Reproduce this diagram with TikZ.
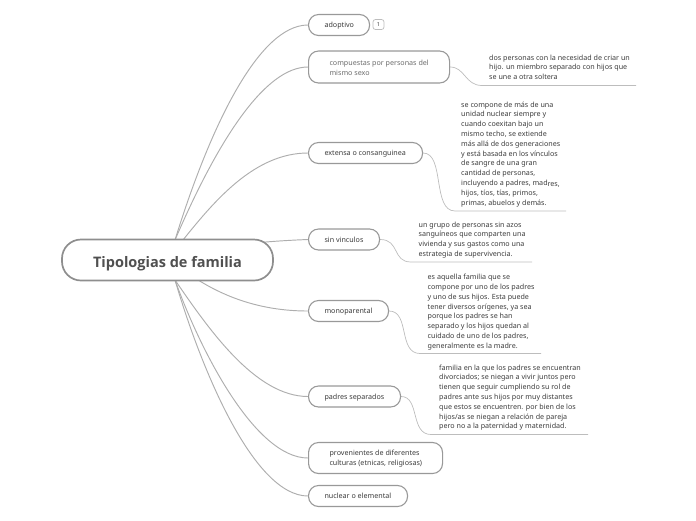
\documentclass[tikz,border=0pt]{standalone}
\usepackage{fontspec}
\setmainfont{Noto Sans}
\newfontfamily\rootfont{Open Sans}
\usetikzlibrary{backgrounds}
\definecolor{bordc}{HTML}{999999}
\definecolor{rootc}{HTML}{8E8E8E}
\definecolor{linkc}{HTML}{BDBDBD}
\definecolor{txtc}{HTML}{3C3C3C}
\newcommand{\tline}[2]{\makebox[#1][l]{\hspace*{16pt}\raisebox{-2.6pt}[0pt][0pt]{#2}}}
\newcommand{\ttwo}[2]{\makebox[#1][l]{\hspace*{21pt}\raisebox{-2.3pt}[0pt][0pt]{\parbox[c]{120pt}{#2}}}}
\tikzset{
 x=1pt,y=-1pt,
 topic/.style n args={2}{draw=bordc,fill=white,line width=1.1pt,rounded corners=10pt,text=txtc,font=\fontsize{7.15}{9.8}\selectfont,minimum width=#1,minimum height=#2,anchor=west,inner sep=0pt},
 rootbox/.style={draw=rootc,fill=white,line width=1.7pt,rounded corners=19pt,minimum width=211pt,minimum height=41pt,text=txtc!90!white,font=\fontsize{14.5}{17}\rootfont\bfseries,inner sep=0pt},
 note/.style={anchor=north west,align=left,inner sep=0pt,text=txtc,font=\fontsize{7.15}{9.8}\selectfont},
 link/.style={draw=linkc!92!black,line width=.95pt},
 thin link/.style={draw=linkc,line width=.7pt},
 badge/.style={draw=linkc,rounded corners=2.5pt,line width=.7pt,minimum width=11pt,minimum height=10pt,inner sep=0pt,text=txtc,font=\fontsize{5.5}{6}\selectfont},
}
\begin{document}
\begin{tikzpicture}
\useasboundingbox (0,0) rectangle (696,520);
\node[rootbox] (root) at (167.5,260) {\raisebox{-7pt}[0pt][0pt]{Tipologias de familia}};
\coordinate (rtop) at (175,240);
\coordinate (rtopb) at (183,240);
\coordinate (rbot) at (175,280);
\node[topic={61pt}{21pt}] (adop) at (308,25) {\tline{61pt}{adoptivo}};
\node[badge] (bad) at (378.5,24.5) {1};
\node[topic={141pt}{32pt},text=txtc!75!white] (comp) at (308,67) {\ttwo{141pt}{compuestas por personas del\\mismo sexo}};
\node[topic={114pt}{21pt}] (ext) at (308,153) {\tline{114pt}{extensa o consanguinea}};
\node[topic={71pt}{21pt}] (sin) at (308,239.5) {\tline{71pt}{sin vinculos}};
\node[topic={80pt}{21pt}] (mono) at (308,311) {\tline{80pt}{monoparental}};
\node[topic={92pt}{21pt}] (pad) at (308,396.5) {\tline{92pt}{padres separados}};
\node[topic={134pt}{31pt}] (prov) at (308,458) {\ttwo{134pt}{provenientes de diferentes\\culturas (etnicas, religiosas)}};
\node[topic={99pt}{21pt}] (nuc) at (308,496) {\tline{99pt}{nuclear o elemental}};
\node[note] (n1) at (489,54.5) {dos personas con la necesidad de criar un\\hijo. un miembro separado con hijos que\\se une a otra soltera};
\node[note] (n2) at (461,101.5) {se compone de más de una\\unidad nuclear siempre y\\cuando coexitan bajo un\\mismo techo, se extiende\\más allá de dos generaciones\\y está basada en los vínculos\\de sangre de una gran\\cantidad de personas,\\incluyendo a padres, mad\raisebox{-1pt}{res,}\\hijos, tíos, tías, primos,\\primas, abuelos y demás.};
\node[note] (n3) at (418.5,221.5) {un grupo de personas sin azos\\sanguíneos que comparten una\\vivienda y sus gastos como una\\estrategia de supervivencia.};
\node[note] (n4) at (427.5,274) {es aquella familia que se\\compone por uno de los padres\\y uno de sus hijos. Esta puede\\tener diversos orígenes, ya sea\\porque los padres se han\\separado y los hijos quedan al\\cuidado de uno de los padres,\\generalmente es la madre.};
\node[note] (n5) at (439,364.5) {familia en la que los padres se encuentran\\divorciados; se niegan a vivir juntos pero\\tienen que seguir cumpliendo su rol de\\padres ante sus hijos por muy distantes\\que estos se encuentren. por bien de los\\hijos/as se niegan a relación de pareja\\pero no a la paternidad y maternidad.};
\coordinate (u1a) at (482,85.5); \coordinate (u1b) at (636,85.5);
\coordinate (u2a) at (455,211); \coordinate (u2b) at (566,211);
\coordinate (u3a) at (411,262); \coordinate (u3b) at (532,262);
\coordinate (u4a) at (420,353.5); \coordinate (u4b) at (541,353.5);
\coordinate (u5a) at (431,434.5); \coordinate (u5b) at (588,434.5);
\coordinate (rsin) at (255,243);
\coordinate (rmono) at (195,278);
\begin{scope}[on background layer]
\draw[link] (rtop) .. controls (209,130) and (258,25) .. (adop.west);
\draw[link] (rtop) .. controls (218,140) and (265,67) .. (comp.west);
\draw[link] (rtopb) .. controls (215,200) and (255,153) .. (ext.west);
\draw[link] (rsin) .. controls (275,241) and (295,240) .. (sin.west);
\draw[link] (rmono) .. controls (232,302) and (270,311) .. (mono.west);
\draw[link] (rbot) .. controls (208,328) and (255,396.5) .. (pad.west);
\draw[link] (rbot) .. controls (200,350) and (255,458) .. (prov.west);
\draw[link] (rbot) .. controls (203,375) and (255,496) .. (nuc.west);
\draw[thin link] (comp.east) .. controls (465,67) and (465,85.5) .. (u1a) -- (u1b);
\draw[thin link] (ext.east) .. controls (445,153) and (432,211) .. (u2a) -- (u2b);
\draw[thin link] (sin.east) .. controls (400,239.5) and (392,262) .. (u3a) -- (u3b);
\draw[thin link] (mono.east) .. controls (410,311) and (398,353.5) .. (u4a) -- (u4b);
\draw[thin link] (pad.east) .. controls (420,396.5) and (410,434.5) .. (u5a) -- (u5b);
\end{scope}
\end{tikzpicture}
\end{document}
